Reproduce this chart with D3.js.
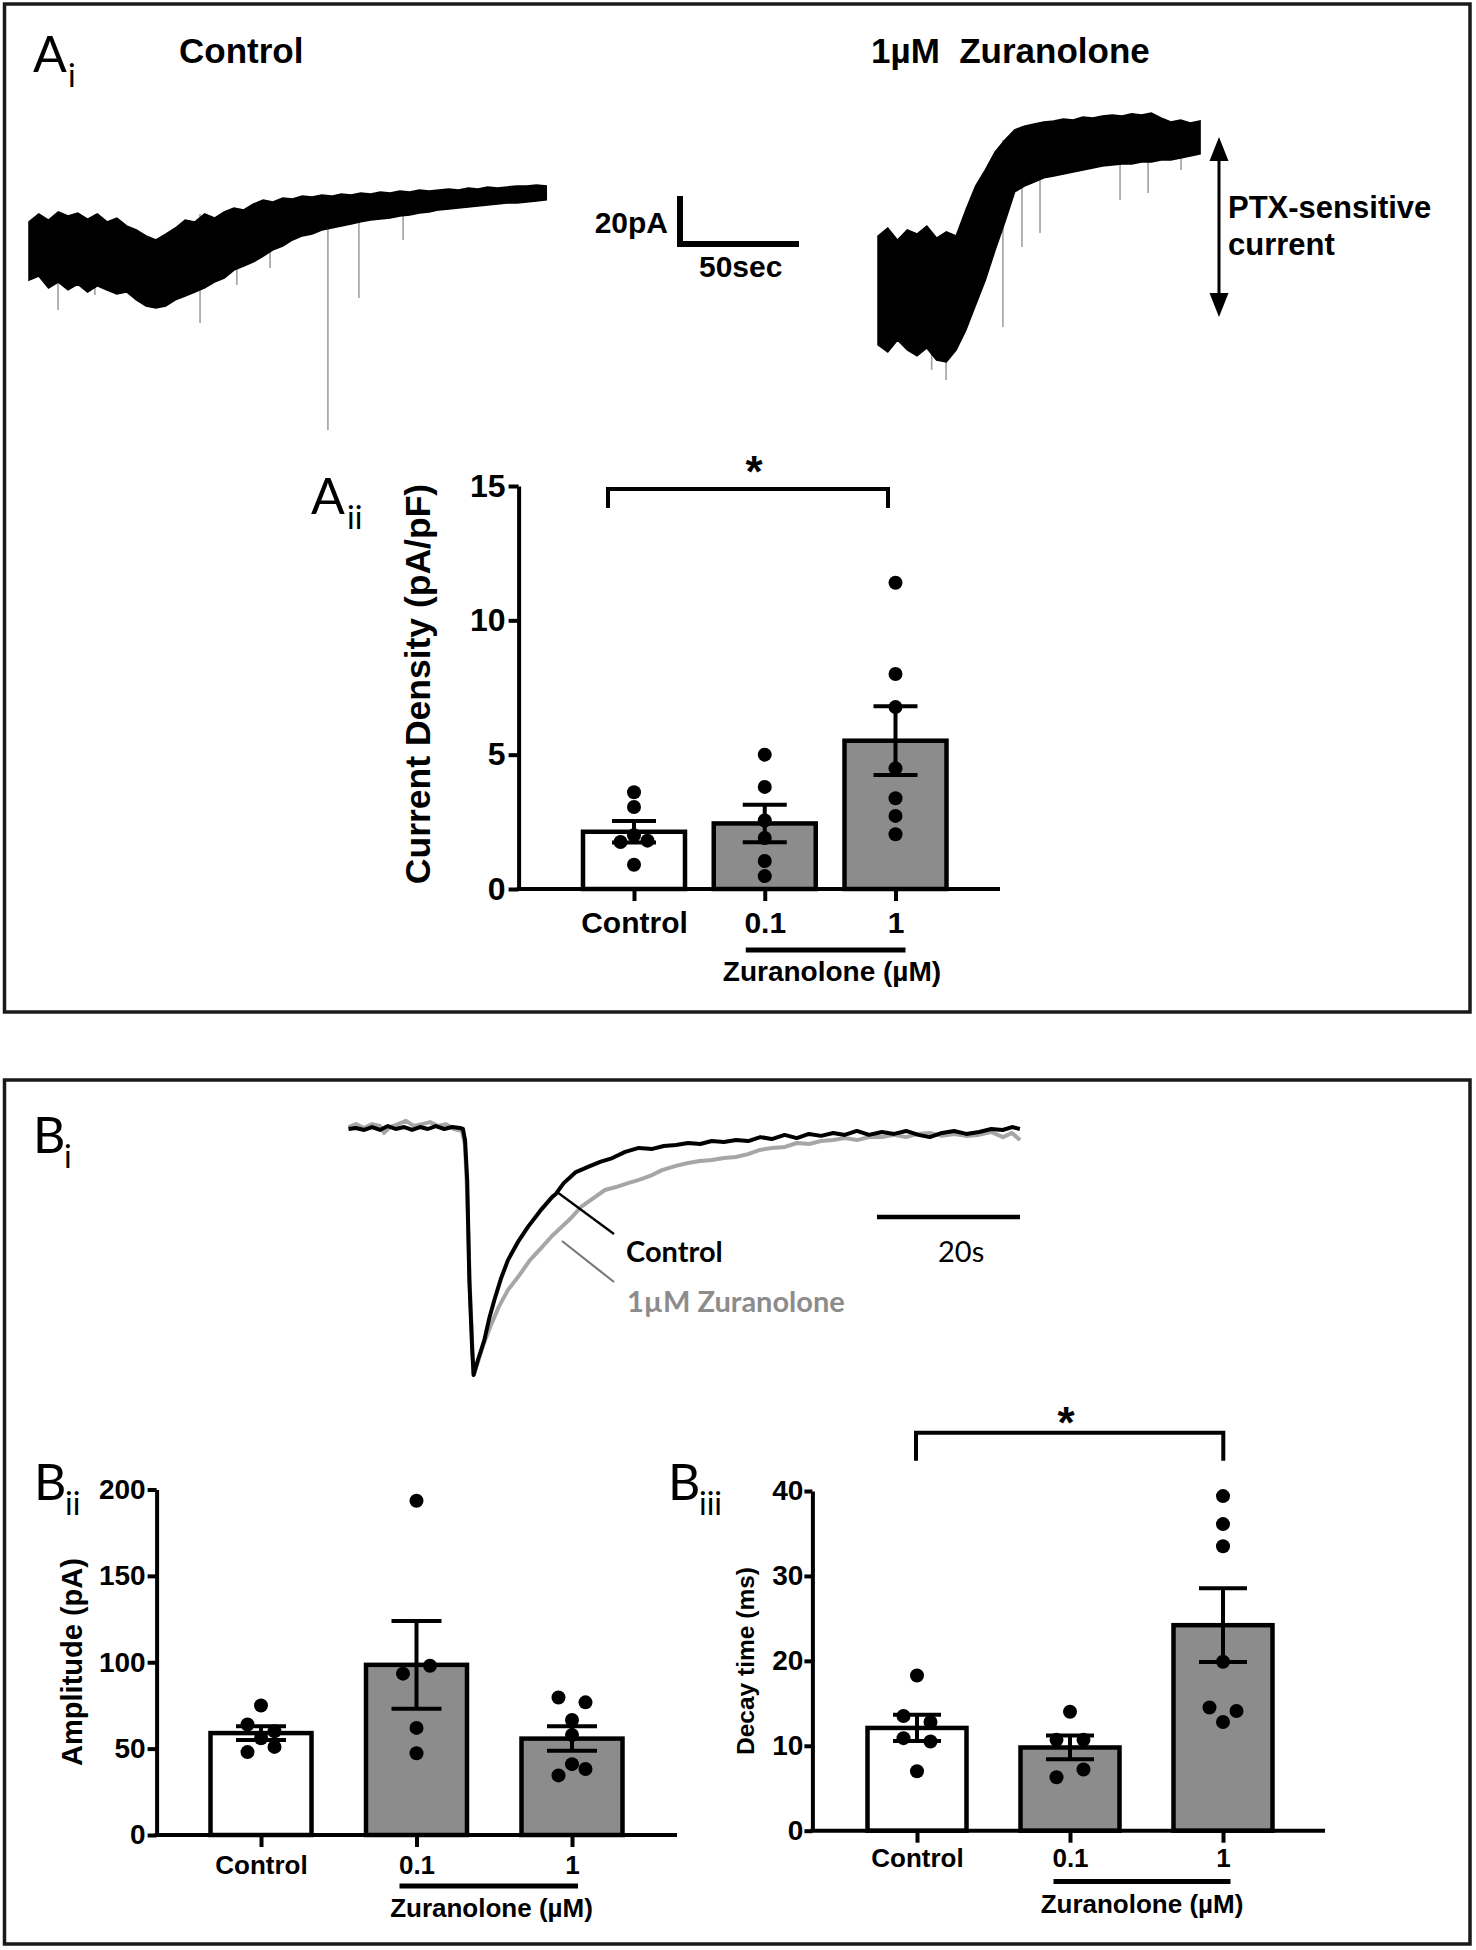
<!DOCTYPE html>
<html><head><meta charset="utf-8">
<script src="https://cdn.jsdelivr.net/npm/d3@7"></script>
<style>body{margin:0;background:#fff} svg{display:block} text{white-space:pre}</style>
</head><body>
<svg id="fig" width="1476" height="1950"></svg>
<script>
// ---------------- DATA ----------------
// Ai: tonic current recordings, envelopes sampled every 4 s (pA, relative)
const aiSampleSec = 4;
const aiControlUpper = [-12.5,-9.4,-11.8,-8.6,-10.2,-9.0,-11.4,-9.4,-12.5,-11.0,-14.1,-15.7,-18.0,-19.6,-17.3,-14.9,-11.8,-12.5,-9.4,-11.0,-8.6,-7.1,-7.8,-5.5,-3.9,-4.7,-3.1,-3.5,-2.4,-2.7,-2.0,-2.4,-1.6,-2.0,-1.2,-1.6,-0.8,-1.2,-0.4,-0.8,0,-0.4,0,0.4,0,0.8,0.4,1.2,0.8,1.2,1.6,1.6,2.0,1.6];
const aiControlLower = [-35.3,-33.7,-38.4,-36.1,-39.2,-36.9,-40.0,-37.6,-39.2,-40.8,-40.0,-43.1,-45.5,-46.3,-45.5,-43.1,-41.6,-40.0,-38.4,-36.1,-34.5,-31.4,-29.8,-28.2,-25.9,-23.5,-22.0,-19.6,-18.0,-17.3,-15.7,-14.9,-14.1,-13.3,-12.5,-11.8,-11.4,-11.0,-10.2,-9.8,-9.0,-8.6,-7.8,-7.5,-7.1,-6.7,-6.3,-5.9,-5.5,-5.1,-5.1,-4.7,-4.3,-3.9];
const aiControlSpikeTime = [11.9,27,57.8,70.1,85.2,98.8,122.5,135.2,153.3];
const aiControlSpikeDepth = [-47.1,-41.2,-43.1,-52.2,-37.3,-30.6,-94.1,-42.4,-19.6];
const aiZurUpper = [-45.5,-42.4,-47.1,-43.1,-44.7,-41.6,-46.3,-43.9,-45.5,-35.3,-25.9,-19.6,-12.5,-7.8,-3.9,-2.4,-1.6,-0.8,-0.4,0.4,0,1.2,0.8,1.6,2.0,1.6,2.4,2.0,2.7,0.8,-0.8,0,-1.2,-0.4];
const aiZurLower = [-88.2,-91.0,-86.3,-90.2,-92.5,-89.4,-94.1,-94.9,-90.2,-82.4,-72.5,-62.7,-51.0,-40.0,-28.2,-25.9,-24.3,-22.7,-22.0,-21.2,-20.4,-19.6,-18.8,-18.0,-17.6,-17.3,-17.3,-16.5,-16.5,-15.7,-15.7,-14.9,-14.1,-13.3];
const aiZurSpikeTime = [22,27.9,51.2,59,66.4,99.2,110.7,124.2];
const aiZurSpikeDepth = [-98,-102,-81.2,-49.8,-44.3,-31.4,-28.6,-19.6];

// Bi: averaged events (time s, current normalised to peak)
const biCtrlTime = [0,1,2.2,3.3,4.4,5.5,6.6,7.8,8.9,10,11.1,12.2,13.4,14.5,15.6,16,16.3,16.6,16.9,17.3,17.5,18.1,19,19.7,20.4,21.3,22.3,23.7,25.1,26.8,28.5,29,30.1,31.8,33.5,35.2,36.9,38.7,40.6,42.5,44.1,45.8,47.5,49.2,50.8,52.5,54.2,55.9,57.6,59.2,61,62.7,64.4,66.1,67.8,69.4,71.1,72.8,74.6,76.3,78,79.7,81.3,83,84.7,86.4,88.2,89.9,91.5,92.8,93.9];
const biCtrlValue = [0,.004,-.004,.008,-.004,.012,0,.008,-.004,.008,0,.012,0,.008,.004,0,-.045,-.207,-.614,-.898,-1,-.939,-.858,-.768,-.695,-.610,-.533,-.459,-.398,-.333,-.276,-.264,-.220,-.175,-.154,-.134,-.118,-.093,-.077,-.081,-.069,-.065,-.057,-.061,-.049,-.053,-.045,-.049,-.033,-.041,-.024,-.037,-.020,-.028,-.016,-.024,-.008,-.024,-.012,-.020,-.008,-.024,-.033,-.016,-.008,-.020,-.012,0,-.004,.008,0];
const biZurTime = [0,1.05,2.17,3.29,4.41,4.97,5.8,6.92,8.04,9.16,10.28,11.4,12.52,13.64,14.76,15.87,16.29,16.57,16.99,17.48,18.11,18.95,19.93,21.0,22.31,23.71,25.38,27.06,28.46,29.81,30.98,32.52,34.06,35.87,37.41,39.09,40.63,42.17,43.85,45.8,47.48,49.16,50.84,52.52,54.2,55.87,57.55,59.23,61.05,62.73,64.41,66.09,67.76,69.44,71.12,72.8,74.62,76.29,77.97,79.65,81.33,83.01,84.69,86.36,88.18,89.86,91.54,92.8,93.92];
const biZurValue = [.008,.020,.004,.020,.012,-.016,.008,.020,.033,.012,.020,.028,.012,.020,0,-.008,-.065,-.248,-.654,-1,-.947,-.87,-.797,-.724,-.654,-.602,-.533,-.480,-.435,-.398,-.366,-.317,-.285,-.248,-.236,-.220,-.207,-.191,-.167,-.150,-.138,-.130,-.126,-.118,-.114,-.102,-.085,-.077,-.073,-.057,-.061,-.049,-.045,-.037,-.045,-.033,-.033,-.024,-.033,-.020,-.016,-.028,-.020,-.028,-.024,-.012,-.033,-.016,-.045];

// Bar charts
const groups = ["Control","0.1","1"];
const aiiMean = [2.13, 2.44, 5.52];
const aiiSem = [0.40, 0.70, 1.28];
const aiiPoints = [[3.6,3.05,1.75,2.0,1.8,0.9],[5.0,3.8,2.55,1.9,1.04,0.48],[11.4,8.0,6.77,4.49,3.38,2.72,2.04]];
const aiiTicks = [0,5,10,15];
const biiMean = [59, 98.5, 55.8];
const biiSem = [4.0, 25.4, 7.1];
const biiPoints = [[75,64,56,60,48,51],[193.5,93.4,98,62,47.3],[79.6,76.8,66.6,57.9,34.5,41,38.2]];
const biiTicks = [0,50,100,150,200];
const biiiMean = [12.1, 9.8, 24.2];
const biiiSem = [1.55, 1.4, 4.35];
const biiiPoints = [[18.27,13.5,12.8,10.9,10.5,7.0],[14.0,10.7,10.7,6.3,7.2],[39.4,36.1,33.5,19.9,14.5,14.1,12.8]];
const biiiTicks = [0,10,20,30,40];

// ---------------- DRAWING ----------------
const BOLD = "'Liberation Sans', Arial, Helvetica, sans-serif";
const LIGHT = "Lato, 'Open Sans', sans-serif";
const svg = d3.select("#fig");
svg.append("rect").attr("width",1476).attr("height",1950).attr("fill","#fff");

// panel frames
svg.append("rect").attr("x",4.5).attr("y",4).attr("width",1465.5).attr("height",1008)
  .attr("fill","none").attr("stroke","#1a1a1a").attr("stroke-width",3.5);
svg.append("rect").attr("x",4.5).attr("y",1080).attr("width",1465.5).attr("height",864)
  .attr("fill","none").attr("stroke","#1a1a1a").attr("stroke-width",3.5);

function txt(x, y, s, o) {
  o = o || {};
  return svg.append("text").attr("x",x).attr("y",y).text(s)
    .attr("font-family", o.family || BOLD).attr("font-weight", o.weight || "bold")
    .attr("font-size", o.size || 30).attr("fill", o.fill || "#000")
    .attr("text-anchor", o.anchor || "start");
}
function panelLabel(x, y, main, sub, subX) {
  txt(x, y, main, {family: LIGHT, weight: 400, size: 50});
  txt(subX, y + 15, sub, {family: LIGHT, weight: 400, size: 32});
}
panelLabel(33, 72, "A", "i", 68);
panelLabel(311, 514, "A", "ii", 347);
panelLabel(33, 1153, "B", "i", 64);
panelLabel(34, 1500, "B", "ii", 65);
panelLabel(668, 1500, "B", "iii", 699);

// ---- Ai traces ----
txt(179, 63, "Control", {size: 35});
txt(871, 63, "1\u00B5M  Zuranolone", {size: 35});

const xAc = d3.scaleLinear().domain([0, 50]).range([29, 151]);
const yAc = d3.scaleLinear().domain([0, -20]).range([190, 241]);
const xAz = d3.scaleLinear().domain([0, 50]).range([878, 1000]);
const yAz = d3.scaleLinear().domain([0, -20]).range([120, 171]);

function drawNoisyTrace(upper, lower, spT, spD, xs, ys) {
  svg.append("g").selectAll("line").data(d3.zip(spT, spD)).join("line")
    .attr("x1", d => xs(d[0])).attr("x2", d => xs(d[0]))
    .attr("y1", d => ys(upper[Math.round(d[0] / aiSampleSec)]))
    .attr("y2", d => ys(d[1]))
    .attr("stroke", "#a0a0a0").attr("stroke-width", 1.6);
  const area = d3.area()
    .x((d, i) => xs(i * aiSampleSec))
    .y0((d, i) => ys(lower[i]))
    .y1((d, i) => ys(upper[i]));
  svg.append("path").datum(upper).attr("d", area)
    .attr("fill", "#000").attr("stroke", "#000").attr("stroke-width", 1.5);
}
drawNoisyTrace(aiControlUpper, aiControlLower, aiControlSpikeTime, aiControlSpikeDepth, xAc, yAc);
drawNoisyTrace(aiZurUpper, aiZurLower, aiZurSpikeTime, aiZurSpikeDepth, xAz, yAz);

// scale bar 20 pA / 50 s
const sbX = 680, sbY = 244;
const sbH = yAc(-20) - yAc(0), sbW = xAc(50) - xAc(0);
svg.append("path").attr("d", `M${sbX},${sbY - sbH + 3}V${sbY}H${sbX - 3 + sbW}`)
  .attr("fill","none").attr("stroke","#000").attr("stroke-width",6);
txt(668, 233, "20pA", {size: 30, anchor: "end"});
txt(699, 277, "50sec", {size: 30});

// PTX arrow
svg.append("line").attr("x1",1219).attr("x2",1219).attr("y1",150).attr("y2",304).attr("stroke","#000").attr("stroke-width",3);
svg.append("path").attr("d","M1219,137L1209.5,161L1228.5,161Z").attr("fill","#000");
svg.append("path").attr("d","M1219,317L1209.5,293L1228.5,293Z").attr("fill","#000");
txt(1228, 218, "PTX-sensitive", {size: 31});
txt(1228, 255, "current", {size: 31});

// ---- Bi traces ----
const xB = d3.scaleLinear().domain([0, 20]).range([348.5, 491.5]);
const yB = d3.scaleLinear().domain([0, -1]).range([1129, 1375]);
const lineB = d3.line().x(d => xB(d[0])).y(d => yB(d[1]));
svg.append("path").datum(d3.zip(biZurTime, biZurValue)).attr("d", lineB)
  .attr("fill","none").attr("stroke","#a6a6a6").attr("stroke-width",4).attr("stroke-linejoin","round");
svg.append("path").datum(d3.zip(biCtrlTime, biCtrlValue)).attr("d", lineB)
  .attr("fill","none").attr("stroke","#000").attr("stroke-width",4).attr("stroke-linejoin","round");
svg.append("line").attr("x1",557).attr("y1",1192).attr("x2",614).attr("y2",1234).attr("stroke","#000").attr("stroke-width",2.2);
svg.append("line").attr("x1",562).attr("y1",1241).attr("x2",614).attr("y2",1282).attr("stroke","#7a7a7a").attr("stroke-width",2.2);
txt(626, 1262, "Control", {family: LIGHT, weight: "bold", size: 29});
txt(627, 1312, "1\u00B5M Zuranolone", {family: LIGHT, weight: "bold", size: 29, fill: "#8c8c8c"});
const bSbLen = xB(20) - xB(0);
svg.append("line").attr("x1",877).attr("x2",877 + bSbLen).attr("y1",1217).attr("y2",1217).attr("stroke","#000").attr("stroke-width",4.5);
txt(938, 1262, "20s", {family: LIGHT, weight: 400, size: 29});

// ---- bar charts ----
function swarm(vals, y, thr, s) {
  const idx = vals.map((v, i) => i).sort((a, b) => vals[b] - vals[a]);
  const rows = []; let cur = null;
  idx.forEach(i => {
    if (cur && Math.abs(y(vals[i]) - y(vals[cur[0]])) < thr) cur.push(i);
    else { cur = [i]; rows.push(cur); }
  });
  const off = new Array(vals.length).fill(0);
  rows.forEach(r => {
    r.sort((a, b) => a - b);
    const n = r.length, step = n % 2 === 0 ? 2 * s : s;
    r.forEach((i, k) => off[i] = (k - (n - 1) / 2) * step);
  });
  return off;
}

function barPanel(c) {
  const y = d3.scaleLinear().domain([0, c.max]).range([c.y0, c.yTop]);
  const x = d3.scalePoint().domain(groups).range(c.xRange);
  const g = svg.append("g");
  g.selectAll("rect").data(groups).join("rect")
    .attr("x", d => x(d) - c.barW / 2).attr("y", (d, i) => y(c.mean[i]))
    .attr("width", c.barW).attr("height", (d, i) => c.y0 - y(c.mean[i]))
    .attr("fill", (d, i) => i === 0 ? "#ffffff" : "#8c8c8c")
    .attr("stroke", "#000").attr("stroke-width", 4.5);
  // points
  groups.forEach((name, gi) => {
    const vals = c.pts[gi];
    const off = swarm(vals, y, 14, 13.5);
    g.append("g").selectAll("circle").data(vals).join("circle")
      .attr("cx", (v, i) => x(name) + off[i]).attr("cy", v => y(v)).attr("r", 7).attr("fill", "#000");
  });
  // error bars
  groups.forEach((name, gi) => {
    const cx = x(name), lo = y(c.mean[gi] - c.sem[gi]), hi = y(c.mean[gi] + c.sem[gi]);
    g.append("path").attr("d", `M${cx},${lo}V${hi}M${cx - c.cap},${hi}H${cx + c.cap}M${cx - c.cap},${lo}H${cx + c.cap}`)
      .attr("fill", "none").attr("stroke", "#000").attr("stroke-width", 4);
  });
  // y axis
  const ya = g.append("g").attr("transform", `translate(${c.axisX},0)`)
    .call(d3.axisLeft(y).tickValues(c.ticks).tickSize(c.tick).tickPadding(c.pad).tickSizeOuter(0).tickFormat(d3.format("d")));
  ya.select(".domain").attr("stroke", "#000").attr("stroke-width", 4);
  ya.selectAll(".tick line").attr("stroke", "#000").attr("stroke-width", 4);
  ya.selectAll(".tick text").attr("font-family", BOLD).attr("font-weight", "bold")
    .attr("font-size", c.tickFont).attr("fill", "#000");
  // x axis
  g.append("line").attr("x1", c.axisX - 2).attr("x2", c.axisEnd).attr("y1", c.y0).attr("y2", c.y0)
    .attr("stroke", "#000").attr("stroke-width", 4);
  const xa = g.append("g").attr("transform", `translate(0,${c.y0})`)
    .call(d3.axisBottom(x).tickSize(12).tickSizeOuter(0));
  xa.select(".domain").remove();
  xa.selectAll(".tick line").attr("stroke", "#000").attr("stroke-width", 4);
  xa.selectAll(".tick text").attr("y", c.xLabelDy).attr("dy", 0)
    .attr("font-family", BOLD).attr("font-weight", "bold").attr("font-size", c.xLabelFont).attr("fill", "#000");
  // dose underline + label
  g.append("line").attr("x1", x("0.1") + c.ul[0]).attr("x2", x("1") + c.ul[1]).attr("y1", c.ul[2]).attr("y2", c.ul[2])
    .attr("stroke", "#000").attr("stroke-width", 5);
  txt(c.zur[0], c.zur[1], "Zuranolone (\u00B5M)", {size: c.zur[2], anchor: "middle"});
  // y label
  svg.append("text").attr("transform", `translate(${c.yl[0]},${c.yl[1]}) rotate(-90)`)
    .attr("text-anchor", "middle").attr("font-family", BOLD).attr("font-weight", "bold")
    .attr("font-size", c.yl[2]).text(c.yl[3]);
  // significance bracket
  if (c.br) {
    g.append("path").attr("d", `M${c.br[0]},${c.br[3]}V${c.br[2]}H${c.br[1]}V${c.br[3]}`)
      .attr("fill", "none").attr("stroke", "#000").attr("stroke-width", 4);
    txt(c.star[0], c.star[1], "*", {size: c.star[2], anchor: "middle"});
  }
}

barPanel({max: 15, y0: 889, yTop: 486, axisX: 518.6, axisEnd: 1000, ticks: aiiTicks,
  xRange: [634, 895.5], barW: 102, mean: aiiMean, sem: aiiSem, pts: aiiPoints, cap: 22,
  tick: 10, pad: 3, tickFont: 32, xLabelDy: 44, xLabelFont: 30,
  ul: [-19, 10, 950], zur: [832, 981, 28], yl: [430, 684, 35.5, "Current Density (pA/pF)"],
  br: [608, 888, 489, 508], star: [754, 487, 44]});

barPanel({max: 200, y0: 1835, yTop: 1489.5, axisX: 156.6, axisEnd: 677, ticks: biiTicks,
  xRange: [261, 572], barW: 101, mean: biiMean, sem: biiSem, pts: biiPoints, cap: 25,
  tick: 9, pad: 2, tickFont: 28, xLabelDy: 39, xLabelFont: 26,
  ul: [-17, 6, 1886], zur: [491.5, 1917, 26], yl: [82, 1662, 29, "Amplitude (pA)"]});

barPanel({max: 40, y0: 1830.7, yTop: 1491, axisX: 812.4, axisEnd: 1325, ticks: biiiTicks,
  xRange: [917, 1223], barW: 99, mean: biiiMean, sem: biiiSem, pts: biiiPoints, cap: 24,
  tick: 8, pad: 1, tickFont: 28, xLabelDy: 36, xLabelFont: 26,
  ul: [-16.5, 7.5, 1881.6], zur: [1142, 1912.5, 26], yl: [754, 1661, 24.5, "Decay time (ms)"],
  br: [916, 1223.3, 1432.7, 1460.7], star: [1066, 1438, 44]});
</script>
</body></html>
